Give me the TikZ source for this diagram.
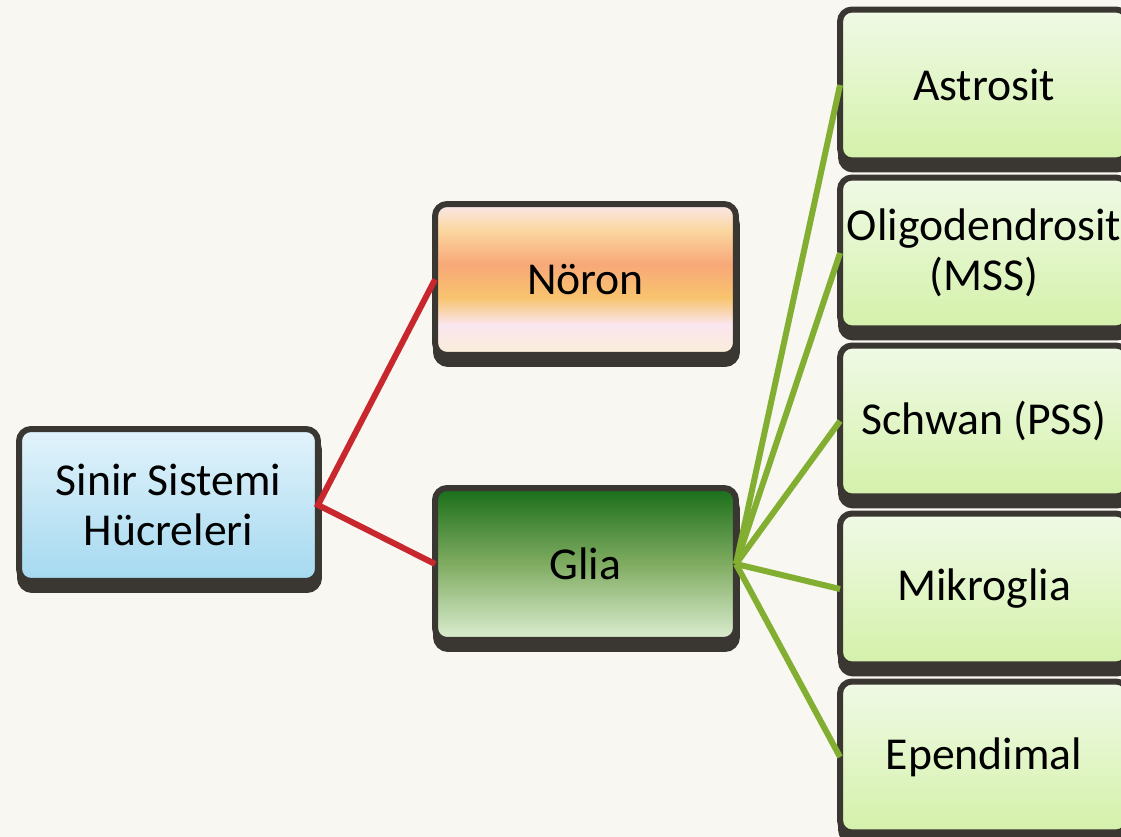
\documentclass[tikz,border=0pt]{standalone}
\usepackage{fontspec}
\setmainfont{Carlito}
\usetikzlibrary{backgrounds}
\definecolor{bg}{RGB}{248,247,241}
\definecolor{edge}{RGB}{58,54,50}
\definecolor{redline}{RGB}{200,40,45}
\definecolor{greenline}{RGB}{130,175,50}
\definecolor{sinB}{RGB}{165,217,240}
\definecolor{sinT}{RGB}{226,243,251}
\definecolor{nr0}{RGB}{250,238,215}
\definecolor{nr1}{RGB}{250,230,240}
\definecolor{nr2}{RGB}{248,196,110}
\definecolor{nr3}{RGB}{248,168,120}
\definecolor{nr4}{RGB}{250,215,160}
\definecolor{nr5}{RGB}{250,232,236}
\definecolor{glB}{RGB}{220,238,210}
\definecolor{glM}{RGB}{128,172,98}
\definecolor{glT}{RGB}{25,110,25}
\definecolor{grB}{RGB}{212,241,170}
\definecolor{grT}{RGB}{240,250,230}
\pgfdeclareverticalshading{sinirshade}{100bp}{color(0bp)=(sinB); color(25bp)=(sinB); color(75bp)=(sinT); color(100bp)=(sinT)}
\pgfdeclareverticalshading{noronshade}{100bp}{color(0bp)=(nr0); color(25bp)=(nr0); color(35bp)=(nr1); color(44bp)=(nr2); color(55bp)=(nr3); color(66.5bp)=(nr4); color(75bp)=(nr5); color(100bp)=(nr5)}
\pgfdeclareverticalshading{gliashade}{100bp}{color(0bp)=(glB); color(25bp)=(glB); color(50bp)=(glM); color(75bp)=(glT); color(100bp)=(glT)}
\pgfdeclareverticalshading{greenshade}{100bp}{color(0bp)=(grB); color(25bp)=(grB); color(75bp)=(grT); color(100bp)=(grT)}
\tikzset{
  box/.style={draw=edge, line width=0.12cm, rounded corners=0.24cm, inner sep=0pt, outer sep=0pt,
    align=center, text=black, font=\fontsize{26}{28.5}\selectfont},
  bigbox/.style={box, minimum width=6.02cm, minimum height=3.02cm},
  cellbox/.style={box, shading=greenshade, minimum width=5.76cm, minimum height=3.02cm},
  shadowbox/.style={fill=edge, draw=edge, line width=0.12cm, rounded corners=0.24cm},
  redlink/.style={draw=redline, line width=0.12cm},
  greenlink/.style={draw=greenline, line width=0.12cm}
}
\begin{document}
\begin{tikzpicture}[x=0.02cm, y=-0.02cm]
\useasboundingbox (0,0) rectangle (1121,837);
\node[box, shading=sinirshade, minimum width=5.98cm, minimum height=3.04cm] (sinir) at (168.5,505) {Sinir Sistemi\\Hücreleri};
\node[bigbox, shading=noronshade] (noron) at (585.5,279.5) {Nöron};
\node[bigbox, shading=gliashade, minimum height=3.04cm] (glia) at (585.5,564) {Glia};
\node[cellbox] (astro) at (984,85) {Astrosit};
\node[cellbox] (oligo) at (984,253) {Oligodendrosit\\(MSS)};
\node[cellbox] (schwan) at (984,421) {Schwan (PSS)};
\node[cellbox] (mikro) at (984,589) {Mikroglia};
\node[cellbox] (epen) at (984,757) {Ependimal};
\begin{scope}[on background layer]
  \fill[bg] (0,0) rectangle (1121,837);
  \foreach \n in {sinir,noron,glia,astro,oligo,schwan,mikro,epen}
    \filldraw[shadowbox] ([xshift=0.02cm,yshift=-0.18cm]\n.south west) rectangle ([xshift=0.02cm,yshift=-0.18cm]\n.north east);
\end{scope}
\draw[redlink] (noron.west) -- (sinir.east) -- (glia.west);
\foreach \n in {astro,oligo,schwan,mikro,epen}
  \draw[greenlink] (glia.east) -- (\n.west);
\end{tikzpicture}
\end{document}
